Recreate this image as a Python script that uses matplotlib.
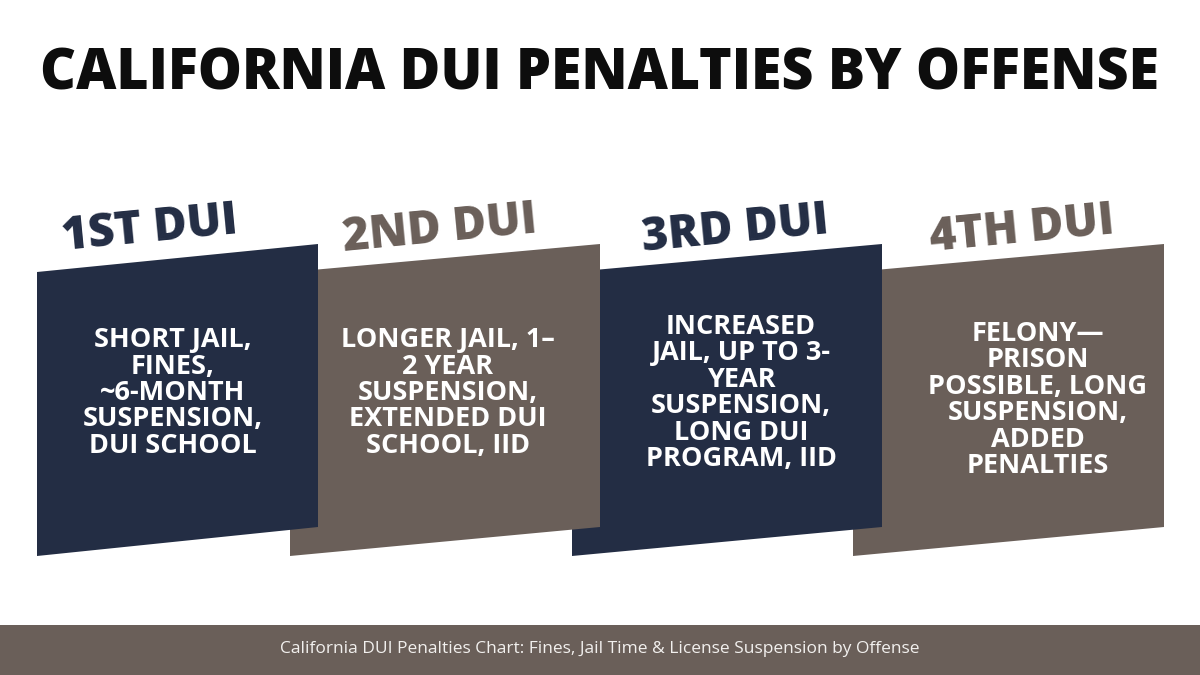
#!/usr/bin/env python3
# -*- coding: utf-8 -*-

import matplotlib
matplotlib.use("Agg")
import matplotlib.pyplot as plt
from matplotlib.patches import Polygon

# DATA ----------------------------------------------------------------------------------------------------------------

title = "CALIFORNIA DUI PENALTIES BY OFFENSE"
footer = "California DUI Penalties Chart: Fines, Jail Time & License Suspension by Offense"
offenses = ["1ST DUI", "2ND DUI", "3RD DUI", "4TH DUI"]
penalties = [
    "SHORT JAIL,\nFINES,\n~6-MONTH\nSUSPENSION,\nDUI SCHOOL",
    "LONGER JAIL, 1–\n2 YEAR\nSUSPENSION,\nEXTENDED DUI\nSCHOOL, IID",
    "INCREASED\nJAIL, UP TO 3-\nYEAR\nSUSPENSION,\nLONG DUI\nPROGRAM, IID",
    "FELONY—\nPRISON\nPOSSIBLE, LONG\nSUSPENSION,\nADDED\nPENALTIES",
]

# LAYOUT (pixel space) ------------------------------------------------------------------------------------------------

NAVY = "#232d44"
TAUPE = "#6a5f59"
colors = [NAVY, TAUPE, NAVY, TAUPE]
lefts = [37, 290, 572, 853]
rights = [318, 600, 882, 1164]
label_x = [150, 440, 735, 1022]
body_x = [173, 448, 741, 1038]
body_y = [393, 393, 393, 400]

fig = plt.figure(figsize=(12, 6.75), dpi=100)
ax = fig.add_axes([0, 0, 1, 1])
ax.set_xlim(0, 1200)
ax.set_ylim(675, 0)
ax.axis("off")

FONT = ["Open Sans", "DejaVu Sans"]

ax.text(600, 75, title, ha="center", va="center", fontsize=40, fontweight="heavy",
        family=FONT, color="#0d0d0d")

# panels drawn right to left so each one overlaps the next
for i in reversed(range(len(offenses))):
    l, r = lefts[i], rights[i]
    poly = Polygon([(l, 272), (r, 244), (r, 527), (l, 556)], closed=True,
                   facecolor=colors[i], edgecolor="none", zorder=2 + (4 - i))
    ax.add_patch(poly)
    ax.text(label_x[i], 230, offenses[i], ha="center", va="center", fontsize=33,
            fontweight="heavy", family=FONT, color=colors[i], rotation=5.5, zorder=10)
    ax.text(body_x[i], body_y[i], penalties[i], ha="center", va="center", fontsize=19.5,
            fontweight="bold", family=FONT, color="white", linespacing=1.02, zorder=10)

ax.add_patch(plt.Rectangle((0, 625), 1200, 50, facecolor=TAUPE, edgecolor="none", zorder=1))
ax.text(600, 649, footer, ha="center", va="center", fontsize=12.5, family=FONT,
        color="#f2f0ee", zorder=10)

fig.savefig("out.png", dpi=100)
